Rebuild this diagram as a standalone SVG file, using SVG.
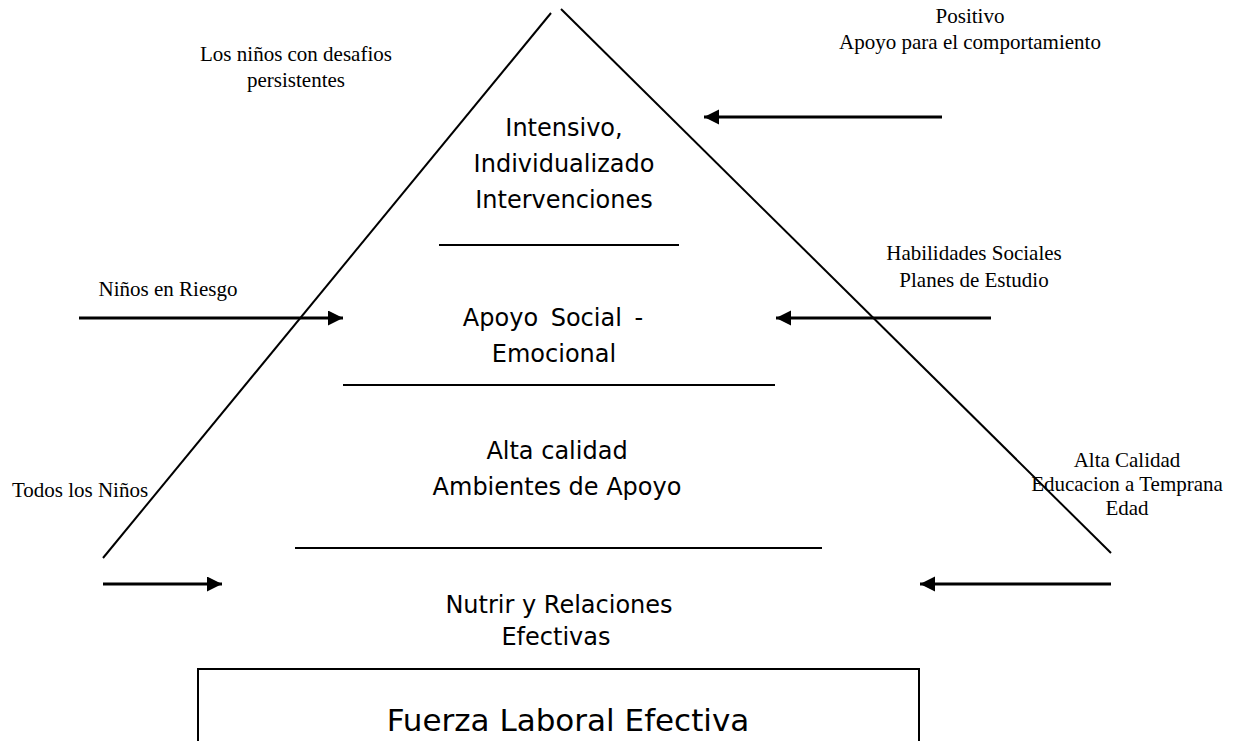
<svg xmlns="http://www.w3.org/2000/svg" width="1240" height="741" viewBox="0 0 1240 741">
<defs>
<style>
.bg{fill:#ffffff}
.edge{stroke:#000;stroke-width:2;fill:none}
.sep{stroke:#000;stroke-width:2}
.arrow{stroke:#000;stroke-width:3;fill:none;marker-end:url(#ah)}
.box{fill:none;stroke:#000;stroke-width:2}
.lvl{font-family:"DejaVu Sans","Liberation Sans",sans-serif;font-size:24px;fill:#000;text-anchor:middle}
.big{font-family:"DejaVu Sans","Liberation Sans",sans-serif;font-size:31px;fill:#000;text-anchor:middle}
.lbl{font-family:"Liberation Serif","Times New Roman",serif;font-size:21px;fill:#000;text-anchor:middle}
</style>
<marker id="ah" markerUnits="userSpaceOnUse" markerWidth="16" markerHeight="16" refX="15" refY="7.5" orient="auto">
<path d="M0,0 L15,7.5 L0,15 z" fill="#000"/>
</marker>
</defs>
<rect class="bg" x="0" y="0" width="1240" height="741"/>
<g id="pyramid">
<line class="edge" x1="551" y1="13" x2="103" y2="558"/>
<line class="edge" x1="561" y1="9" x2="1111" y2="553"/>
<line class="sep" x1="439" y1="245" x2="679" y2="245"/>
<line class="sep" x1="343" y1="385" x2="775" y2="385"/>
<line class="sep" x1="295" y1="548" x2="822" y2="548"/>
</g>
<g id="connectors">
<line class="arrow" x1="942" y1="117" x2="704" y2="117"/>
<line class="arrow" x1="79" y1="318" x2="343" y2="318"/>
<line class="arrow" x1="991" y1="318" x2="776" y2="318"/>
<line class="arrow" x1="103" y1="584" x2="222" y2="584"/>
<line class="arrow" x1="1111" y1="584" x2="920" y2="584"/>
</g>
<g id="level-intensive">
<text class="lvl" x="564" y="136">Intensivo,</text>
<text class="lvl" x="564" y="172">Individualizado</text>
<text class="lvl" x="564" y="208">Intervenciones</text>
</g>
<g id="level-social">
<text class="lvl" x="553" y="326" word-spacing="5">Apoyo Social -</text>
<text class="lvl" x="554" y="362">Emocional</text>
</g>
<g id="level-quality">
<text class="lvl" x="557" y="459">Alta calidad</text>
<text class="lvl" x="557" y="495">Ambientes de Apoyo</text>
</g>
<g id="level-nurture">
<text class="lvl" x="559" y="613">Nutrir y Relaciones</text>
<text class="lvl" x="556" y="645">Efectivas</text>
</g>
<g id="workforce">
<rect class="box" x="198" y="669" width="721" height="80"/>
<text class="big" x="568" y="731">Fuerza Laboral Efectiva</text>
</g>
<g id="label-persistent">
<text class="lbl" x="296" y="61">Los niños con desafios</text>
<text class="lbl" x="296" y="87">persistentes</text>
</g>
<g id="label-positive">
<text class="lbl" x="970" y="23">Positivo</text>
<text class="lbl" x="970" y="49">Apoyo para el comportamiento</text>
</g>
<g id="label-social-skills">
<text class="lbl" x="974" y="260">Habilidades Sociales</text>
<text class="lbl" x="974" y="287">Planes de Estudio</text>
</g>
<g id="label-risk">
<text class="lbl" x="168" y="296">Niños en Riesgo</text>
</g>
<g id="label-all">
<text class="lbl" x="80" y="497">Todos los Niños</text>
</g>
<g id="label-early-ed">
<text class="lbl" x="1127" y="467">Alta Calidad</text>
<text class="lbl" x="1127" y="491">Educacion a Temprana</text>
<text class="lbl" x="1127" y="515">Edad</text>
</g>
</svg>
